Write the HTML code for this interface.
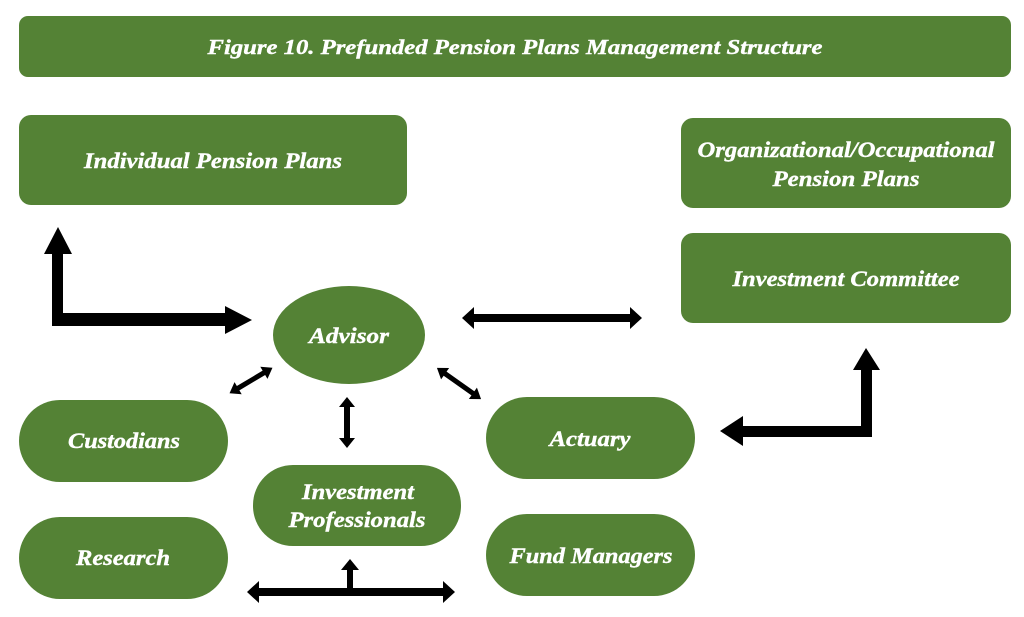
<!DOCTYPE html>
<html><head><meta charset="utf-8"><style>
html,body{margin:0;padding:0;background:#fff;}
svg{display:block;}
text{font-family:"Liberation Serif","DejaVu Serif",serif;font-weight:700;font-style:italic;fill:#fff;text-anchor:middle;stroke:#fff;stroke-width:0.4;}
</style></head><body>
<svg width="1024" height="617" viewBox="0 0 1024 617" xmlns="http://www.w3.org/2000/svg">
<g fill="#548235">
<rect x="19" y="16" width="992" height="61" rx="9"/>
<rect x="19" y="115" width="388" height="90" rx="12"/>
<rect x="681" y="118" width="330" height="90" rx="12"/>
<rect x="681" y="233" width="330" height="90" rx="12"/>
<ellipse cx="349" cy="335" rx="76" ry="49"/>
<rect x="19" y="400" width="209" height="82" rx="41"/>
<rect x="19" y="517" width="209" height="82" rx="41"/>
<rect x="253" y="465" width="208" height="81" rx="40"/>
<rect x="486" y="397" width="209" height="82" rx="41"/>
<rect x="486" y="514" width="209" height="82" rx="41"/>
</g>
<text x="515" y="54" font-size="21" textLength="615" lengthAdjust="spacingAndGlyphs">Figure 10. Prefunded Pension Plans Management Structure</text>
<text x="213" y="168" font-size="22" textLength="258" lengthAdjust="spacingAndGlyphs">Individual Pension Plans</text>
<text x="846" y="157" font-size="22" textLength="297" lengthAdjust="spacingAndGlyphs">Organizational/Occupational</text>
<text x="846" y="186" font-size="22" textLength="147" lengthAdjust="spacingAndGlyphs">Pension Plans</text>
<text x="846" y="286" font-size="22" textLength="227" lengthAdjust="spacingAndGlyphs">Investment Committee</text>
<text x="349" y="343" font-size="22" textLength="80" lengthAdjust="spacingAndGlyphs">Advisor</text>
<text x="124" y="448" font-size="22" textLength="112" lengthAdjust="spacingAndGlyphs">Custodians</text>
<text x="123" y="565" font-size="22" textLength="94" lengthAdjust="spacingAndGlyphs">Research</text>
<text x="358" y="499" font-size="22" textLength="112" lengthAdjust="spacingAndGlyphs">Investment</text>
<text x="357" y="527" font-size="22" textLength="137" lengthAdjust="spacingAndGlyphs">Professionals</text>
<text x="590" y="446" font-size="22" textLength="81" lengthAdjust="spacingAndGlyphs">Actuary</text>
<text x="591" y="563" font-size="22" textLength="163" lengthAdjust="spacingAndGlyphs">Fund Managers</text>
<g fill="#000">
<polygon points="52,254 44,254 58,227 72,254 63,254 63,313 225,313 225,306 252,320 225,334 225,326 52,326"/>
<polygon points="861,370 853,370 866,348 880,370 872,370 872,437 743,437 743,446 720,431 743,416 743,426 861,426"/>
<polygon points="462,318 474,307 474,314 630,314 630,307 642,318 630,329 630,322 474,322 474,329"/>
<polygon points="347,397 355,407 350,407 350,438 355,438 347,448 339,438 344,438 344,407 339,407"/>
<g transform="translate(251,380.5) rotate(-30.8)"><polygon points="-25,0 -15,-7 -15,-2.5 15,-2.5 15,-7 25,0 15,7 15,2.5 -15,2.5 -15,7"/></g>
<g transform="translate(459,383.5) rotate(35.2)"><polygon points="-27,0 -17,-7 -17,-2.5 17,-2.5 17,-7 27,0 17,7 17,2.5 -17,2.5 -17,7"/></g>
<polygon points="247,592 259,581 259,588 347,588 347,570 341,570 350,559 359,570 353,570 353,588 443,588 443,581 455,592 443,603 443,596 259,596 259,603"/>
</g>
</svg>
</body></html>
